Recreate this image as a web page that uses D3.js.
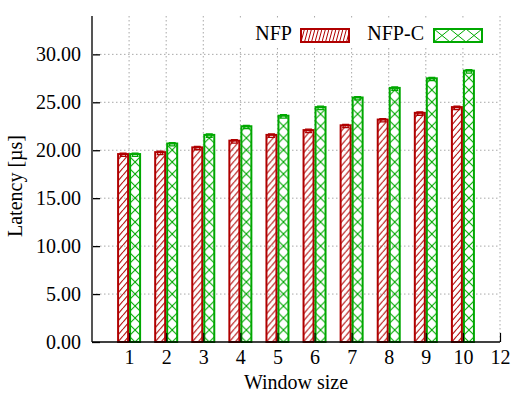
<!DOCTYPE html>
<html>
<head>
<meta charset="utf-8">
<script src="https://cdn.jsdelivr.net/npm/d3@7"></script>
<style>
  body { margin: 0; background: #fff; }
</style>
</head>
<body>
<svg id="canvas"></svg>
<script>
// data
let windows = [1, 2, 3, 4, 5, 6, 7, 8, 9, 10]
let nfp = [19.6, 19.8, 20.3, 21.0, 21.6, 22.1, 22.6, 23.2, 23.9, 24.5]
let nfpC = [19.6, 20.7, 21.6, 22.5, 23.6, 24.5, 25.5, 26.5, 27.5, 28.3]
let nfpErr = [0.25, 0.25, 0.25, 0.25, 0.25, 0.25, 0.25, 0.25, 0.25, 0.25]
let nfpCErr = [0.25, 0.25, 0.25, 0.25, 0.25, 0.25, 0.25, 0.25, 0.25, 0.25]
let xTicks = [1, 2, 3, 4, 5, 6, 7, 8, 9, 10, 11]
let xTickLabels = ['1', '2', '3', '4', '5', '6', '7', '8', '9', '10', '12']
let yTicks = [0, 5, 10, 15, 20, 25, 30]
let seriesNames = ['NFP', 'NFP-C']

let width = 513
let height = 394
let plotLeft = 92
let plotRight = 500
let plotTop = 16
let plotBottom = 342

let red = '#b00000'
let green = '#00a800'
let serif = '"Liberation Serif", "Times New Roman", serif'

let canvas = d3.select('#canvas')
    .attr('width', width)
    .attr('height', height)

let xScale = d3.scaleLinear().domain([0, 11]).range([plotLeft, plotRight])
let yScale = d3.scaleLinear().domain([0, 34]).range([plotBottom, plotTop])

let barW = 12

let defs = canvas.append('defs')

// grid
canvas.append('g').selectAll('line')
    .data(yTicks.filter(d => d > 0))
    .enter().append('line')
    .attr('x1', plotLeft).attr('x2', plotRight)
    .attr('y1', d => yScale(d)).attr('y2', d => yScale(d))
    .attr('stroke', '#a8a8a8').attr('stroke-width', 1)
    .attr('stroke-dasharray', '1.5,2.5')

canvas.append('g').selectAll('line')
    .data(xTicks)
    .enter().append('line')
    .attr('x1', d => xScale(d)).attr('x2', d => xScale(d))
    .attr('y1', plotTop).attr('y2', plotBottom)
    .attr('stroke', '#a8a8a8').attr('stroke-width', 1)
    .attr('stroke-dasharray', '1.5,2.5')

// bars
let rows = windows.map((w, i) => ({ w: w, a: nfp[i], ae: nfpErr[i], b: nfpC[i], be: nfpCErr[i] }))

let makePattern = (id, color, x0, cross) => {
    let h = cross ? 12 : 7
    let p = defs.append('pattern')
        .attr('id', id)
        .attr('patternUnits', 'userSpaceOnUse')
        .attr('x', x0).attr('y', 0)
        .attr('width', barW).attr('height', h)
    if (cross) {
        p.append('path').attr('d', `M0,0L${barW},${h}M${barW},0L0,${h}`)
            .attr('stroke', color).attr('stroke-width', 1.1).attr('fill', 'none')
    } else {
        p.append('path').attr('d', `M0,${h}L${barW / 2},0M${barW / 2},${h}L${barW},0`)
            .attr('stroke', color).attr('stroke-width', 1.1).attr('fill', 'none')
    }
}

let drawSeries = (key, errKey, offset, color, cross) => {
    let g = canvas.append('g')
    rows.forEach((d, i) => {
        let x0 = xScale(d.w) + offset
        let pid = 'pat-' + key + '-' + i
        makePattern(pid, color, x0, cross)
        g.append('rect')
            .attr('x', x0 + 1)
            .attr('y', yScale(d[key]))
            .attr('width', barW - 2)
            .attr('height', yScale(0) - yScale(d[key]))
            .attr('fill', 'url(#' + pid + ')')
            .attr('stroke', color)
            .attr('stroke-width', 2)
        // error bar
        let cx = x0 + barW / 2
        let hi = yScale(d[key] + d[errKey] * 0.4)
        let lo = yScale(d[key] - d[errKey])
        g.append('path')
            .attr('d', `M${cx - 3.5},${hi}H${cx + 3.5}M${cx - 3.5},${lo}H${cx + 3.5}M${cx - 2.5},${hi}V${lo}M${cx + 2.5},${hi}V${lo}`)
            .attr('stroke', color).attr('stroke-width', 1.3).attr('fill', 'none')
    })
}

drawSeries('a', 'ae', -barW, red, false)
drawSeries('b', 'be', 0, green, true)

// axes
let yAxis = d3.axisLeft(yScale)
    .tickValues(yTicks)
    .tickSize(-8)
    .tickPadding(11)
    .tickFormat(d3.format('.2f'))

let yG = canvas.append('g')
    .attr('transform', `translate(${plotLeft}, 0)`)
    .call(yAxis)
yG.select('.domain').remove()
yG.selectAll('line').attr('stroke', '#000').attr('stroke-width', 1.3)
yG.selectAll('text').style('font-size', '20px').style('font-family', serif).attr('fill', '#000')

let xAxis = d3.axisBottom(xScale)
    .tickValues(xTicks)
    .tickSize(-9)
    .tickPadding(8)
    .tickFormat((d, i) => xTickLabels[i])

let xG = canvas.append('g')
    .attr('transform', `translate(0, ${plotBottom})`)
    .call(xAxis)
xG.select('.domain').remove()
xG.selectAll('line').attr('stroke', '#000').attr('stroke-width', 1.2)
xG.selectAll('text').style('font-size', '20px').style('font-family', serif).attr('fill', '#000')

// borders
canvas.append('line')
    .attr('x1', plotLeft).attr('x2', plotLeft).attr('y1', plotTop).attr('y2', plotBottom)
    .attr('stroke', '#555').attr('stroke-width', 2)
canvas.append('line')
    .attr('x1', plotLeft).attr('x2', plotRight).attr('y1', plotBottom).attr('y2', plotBottom)
    .attr('stroke', '#000').attr('stroke-width', 1.3)

// axis titles
canvas.append('text')
    .attr('x', (plotLeft + plotRight) / 2)
    .attr('y', 389)
    .attr('text-anchor', 'middle')
    .style('font-size', '20px').style('font-family', serif)
    .text('Window size')

canvas.append('text')
    .attr('transform', 'translate(22, 186) rotate(-90)')
    .attr('text-anchor', 'middle')
    .style('font-size', '20px').style('font-family', serif)
    .text('Latency [µs]')

// legend
canvas.append('rect')
    .attr('x', 236).attr('y', 20).attr('width', 258).attr('height', 27)
    .attr('fill', '#fff')

let legendItems = [
    { name: seriesNames[0], color: red, cross: false, textEnd: 292, boxX: 301 },
    { name: seriesNames[1], color: green, cross: true, textEnd: 424, boxX: 434 }
]
legendItems.forEach((d, i) => {
    canvas.append('text')
        .attr('x', d.textEnd).attr('y', 40)
        .attr('text-anchor', 'end')
        .style('font-size', '20px').style('font-family', serif)
        .text(d.name)
    let pid = 'leg-' + i
    let p = defs.append('pattern')
        .attr('id', pid)
        .attr('patternUnits', 'userSpaceOnUse')
        .attr('x', d.boxX).attr('y', 29)
        .attr('width', d.cross ? 16 : 7).attr('height', 13)
    if (d.cross) {
        p.append('path').attr('d', 'M0,0L16,13M16,0L0,13')
            .attr('stroke', d.color).attr('stroke-width', 1).attr('fill', 'none')
    } else {
        p.append('path').attr('d', 'M0,13L3.5,0M3.5,13L7,0')
            .attr('stroke', d.color).attr('stroke-width', 1).attr('fill', 'none')
    }
    canvas.append('rect')
        .attr('x', d.boxX).attr('y', 29)
        .attr('width', 48).attr('height', 13)
        .attr('fill', 'url(#' + pid + ')')
        .attr('stroke', d.color).attr('stroke-width', 2)
})
</script>
</body>
</html>
